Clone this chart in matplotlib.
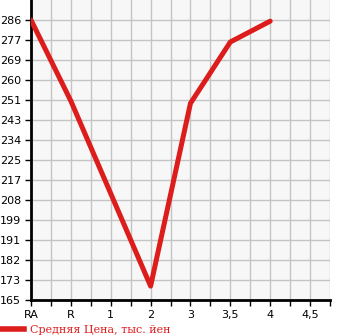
import numpy as np
import matplotlib.pyplot as plt
from matplotlib.lines import Line2D

categories = ['RA', 'R', '1', '2', '3', '3,5', '4', '4,5']
prices = [286, 251, 211, 171, 250, 276.5, 285.5, None]
y_labels = ['165', '173', '182', '191', '199', '208', '217', '225',
            '234', '243', '251', '260', '269', '277', '286']

y_min, y_max = 165, 286
step = (y_max - y_min) / 14.0
red = '#dd1c1c'

fig = plt.figure(figsize=(3.45, 3.35), dpi=100)
ax = fig.add_axes([31 / 345, 35 / 335, 299 / 345, 300 / 335])
ax.set_facecolor('#f7f7f7')

x = np.arange(len(categories))
xs = [i for i, v in zip(x, prices) if v is not None]
vs = [v for v in prices if v is not None]
ax.plot(xs, vs, color=red, linewidth=3.6, solid_capstyle='round', zorder=3)

ax.set_xlim(0, 7.5)
ax.set_ylim(y_min, y_min + 15 * step)

ax.set_xticks(x)
ax.set_xticklabels(categories)
ax.set_xticks(np.arange(0.5, 7.6, 1.0), minor=True)
yt = [y_min + i * step for i in range(15)]
ax.set_yticks(yt)
ax.set_yticklabels(y_labels)

ax.grid(True, which='both', color='#c4c4c4', linewidth=1.0)
ax.set_axisbelow(True)

for s in ['top', 'right']:
    ax.spines[s].set_visible(False)
for s in ['left', 'bottom']:
    ax.spines[s].set_linewidth(2)
    ax.spines[s].set_color('black')

ax.tick_params(axis='both', which='both', length=4, width=1, color='black',
               labelsize=8, pad=3)
for lab in ax.get_xticklabels() + ax.get_yticklabels():
    lab.set_family('DejaVu Sans')

handle = Line2D([0], [0], color=red, linewidth=4)
fig.legend([handle], ['Средняя Цена, тыс. йен'], loc='lower left',
           bbox_to_anchor=(-0.03, -0.03), frameon=False, handlelength=2.2,
           handletextpad=0.5, prop={'family': 'DejaVu Serif', 'size': 8},
           labelcolor=red)

fig.savefig('out.png', dpi=100)
